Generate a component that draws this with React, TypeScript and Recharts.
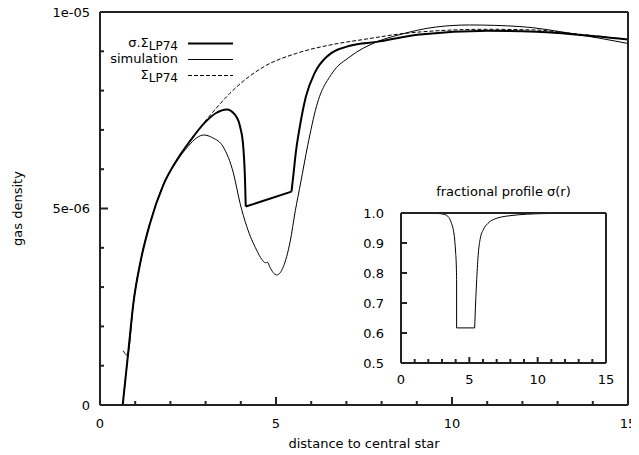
import React from "react"
import { LineChart, Line, XAxis, YAxis, Legend, Label } from "recharts"

const FONT = "'DejaVu Sans', sans-serif"
const INK = "#000"
const FRAME = "#222"
const FRAME_W = 2

// main panel axes
const xDomain = [0, 15]
const yDomain = [0, 1e-5]
const xTicks = [0, 1, 2, 3, 4, 5, 6, 7, 8, 9, 10, 11, 12, 13, 14, 15]
const xTickLabels = ["0", "", "", "", "", "5", "", "", "", "", "10", "", "", "", "", "15"]
const yTicks = [0, 1e-6, 2e-6, 3e-6, 4e-6, 5e-6, 6e-6, 7e-6, 8e-6, 9e-6, 1e-5]
const yTickLabels = ["0", "", "", "", "", "5e-06", "", "", "", "", "1e-05"]

// sigma . Sigma_LP74 (thick) - three pieces, the gap edges are sharp corners
const sigSigInnerR = [0.645, 0.8, 0.95, 1.14, 1.42, 1.8, 2.18, 2.56, 2.97, 3.3, 3.6, 3.84, 3.98, 4.07, 4.12, 4.14]
const sigSigInnerV = [0, 1.32e-6, 2.6e-6, 3.6e-6, 4.62e-6, 5.6e-6, 6.23e-6, 6.72e-6, 7.18e-6, 7.43e-6, 7.52e-6, 7.38e-6, 7.08e-6, 6.57e-6, 5.72e-6, 5.05e-6]
const sigSigFloorR = [4.14, 5.44]
const sigSigFloorV = [5.05e-6, 5.43e-6]
const sigSigOuterR = [5.44, 5.5, 5.56, 5.68, 5.85, 6.1, 6.44, 7.1, 7.86, 9.09, 11.0, 12.4, 13.35, 15]
const sigSigOuterV = [5.43e-6, 5.9e-6, 6.4e-6, 7.1e-6, 7.85e-6, 8.45e-6, 8.86e-6, 9.14e-6, 9.24e-6, 9.43e-6, 9.52e-6, 9.5e-6, 9.44e-6, 9.3e-6]

// simulation (thin)
const simR = [0.66, 0.71, 0.76, 0.8, 0.95, 1.14, 1.42, 1.8, 2.18, 2.5, 2.75, 2.94, 3.2, 3.5, 3.79, 3.98, 4.17, 4.45, 4.6, 4.7, 4.76, 4.82, 4.92, 5.02, 5.21, 5.4, 5.55, 5.7, 5.9, 6.15, 6.6, 7.1, 7.86, 8.5, 9.56, 10.5, 11.93, 13.35, 15]
const simV = [1.38e-6, 1.31e-6, 1.27e-6, 1.32e-6, 2.6e-6, 3.6e-6, 4.62e-6, 5.6e-6, 6.2e-6, 6.58e-6, 6.8e-6, 6.87e-6, 6.8e-6, 6.57e-6, 5.9e-6, 5.13e-6, 4.54e-6, 3.94e-6, 3.7e-6, 3.62e-6, 3.63e-6, 3.52e-6, 3.37e-6, 3.31e-6, 3.52e-6, 4.15e-6, 4.95e-6, 5.65e-6, 6.6e-6, 7.6e-6, 8.45e-6, 8.86e-6, 9.24e-6, 9.42e-6, 9.62e-6, 9.67e-6, 9.63e-6, 9.46e-6, 9.2e-6]

// Sigma_LP74 (dashed)
const lpR = [0.645, 0.8, 0.95, 1.14, 1.42, 1.8, 2.18, 2.56, 2.97, 3.3, 3.69, 4.64, 5.59, 6.53, 7.48, 8.81, 10.99, 12.4, 13.35, 15]
const lpV = [0, 1.32e-6, 2.6e-6, 3.6e-6, 4.62e-6, 5.6e-6, 6.23e-6, 6.72e-6, 7.2e-6, 7.55e-6, 7.93e-6, 8.6e-6, 8.95e-6, 9.16e-6, 9.3e-6, 9.47e-6, 9.56e-6, 9.54e-6, 9.46e-6, 9.3e-6]

// inset: fractional profile sigma(r)
const insetYDomain = [0.5, 1.0]
const fracInnerR = [0, 1, 2, 2.8, 3.2, 3.5, 3.7, 3.83, 3.93, 4.0, 4.05, 4.07]
const fracInnerV = [1.0, 1.0, 0.999, 0.998, 0.995, 0.985, 0.965, 0.944, 0.91, 0.867, 0.82, 0.778]
const fracFloorR = [4.07, 4.07, 5.39]
const fracFloorV = [0.778, 0.617, 0.617]
const fracOuterR = [5.39, 5.46, 5.54, 5.66, 5.8, 6.02, 6.35, 6.75, 7.97, 10.4, 15]
const fracOuterV = [0.617, 0.7, 0.778, 0.867, 0.915, 0.944, 0.965, 0.978, 0.991, 0.998, 1.0]
const insetYTicks = [0.5, 0.6, 0.7, 0.8, 0.9, 1.0]
const insetYTickLabels = ["0.5", "0.6", "0.7", "0.8", "0.9", "1.0"]

const rows = (r: number[], v: number[]) => r.map((x, i) => ({ r: x, v: v[i] }))

const textStyle = { fontFamily: FONT, fontSize: 13, fill: INK }
const frameLine = { stroke: FRAME, strokeWidth: FRAME_W }

type Side = "bottom" | "top" | "left" | "right"

// gnuplot-like ticks: pointing inward, longer on labelled ones
function tickMark(side: Side, labels: string[], showText: boolean, long: number, short: number, gap: number) {
  return (p: any) => {
    const lab = labels[p.index] ?? ""
    const len = lab ? long : short
    const x = Number(p.x)
    const y = Number(p.y)
    const dx = side === "left" ? len : side === "right" ? -len : 0
    const dy = side === "bottom" ? -len : side === "top" ? len : 0
    let txt = null
    if (showText && lab) {
      txt = side === "bottom"
        ? <text x={x} y={y + gap} textAnchor="middle" {...textStyle}>{lab}</text>
        : <text x={x - gap} y={y + 4.5} textAnchor="end" {...textStyle}>{lab}</text>
    }
    return (
      <g>
        <path d={`M${x},${y}L${x + dx},${y + dy}`} stroke={FRAME} strokeWidth={FRAME_W} />
        {txt}
      </g>
    )
  }
}

const subStyle: React.CSSProperties = { fontSize: 12, position: "relative", top: 3 }
const legendOrder = ["sigSig", "sim", "lp74"]
const legendLabels: Record<string, React.ReactNode> = {
  sigSig: <>σ.Σ<span style={subStyle}>LP74</span></>,
  sim: "simulation",
  lp74: <>Σ<span style={subStyle}>LP74</span></>,
}
const legendStroke: Record<string, { w: number; dash?: string }> = {
  sigSig: { w: 2 },
  sim: { w: 1 },
  lp74: { w: 1, dash: "4 2" },
}

const renderLegend = (props: any) => {
  const items = (props.payload ?? [])
    .filter((it: any) => legendOrder.includes(it.value))
    .sort((a: any, b: any) => legendOrder.indexOf(a.value) - legendOrder.indexOf(b.value))
  return (
    <div style={{ fontFamily: FONT, fontSize: 13, color: INK }}>
      {items.map((it: any) => (
        <div key={it.value} style={{ display: "flex", alignItems: "center", height: 16 }}>
          <span style={{ width: 80, textAlign: "right", lineHeight: "16px", whiteSpace: "nowrap" }}>
            {legendLabels[it.value]}
          </span>
          <svg width={56} height={16}>
            <path d="M10,8.5L55,8.5" stroke={INK}
              strokeWidth={legendStroke[it.value].w} strokeDasharray={legendStroke[it.value].dash} />
          </svg>
        </div>
      ))}
    </div>
  )
}

const yTitle = (lp: any) => {
  const vb = lp.viewBox
  const cx = 22
  const cy = vb.y + vb.height / 2
  return (
    <text x={cx} y={cy} transform={`rotate(-90 ${cx} ${cy})`} textAnchor="middle" {...textStyle}>
      gas density
    </text>
  )
}

const axisCommon = { tickSize: 0, tickMargin: 0, tickLine: false, interval: 0 as const, axisLine: frameLine }

export default function App() {
  return (
    <div style={{ position: "relative", left: -8, top: -8, width: 639, height: 455, background: "#fff", fontFamily: FONT }}>
      <LineChart width={639} height={455} margin={{ top: 11, right: 10, bottom: 0, left: 0 }}>
        <XAxis type="number" dataKey="r" domain={xDomain} ticks={xTicks} height={50} {...axisCommon}
          tick={tickMark("bottom", xTickLabels, true, 8, 4, 22.5)}>
          <Label value="distance to central star" position="insideBottom" offset={7} {...textStyle} />
        </XAxis>
        <XAxis xAxisId="top" orientation="top" type="number" dataKey="r" domain={xDomain} ticks={xTicks}
          height={1} {...axisCommon} tick={tickMark("top", xTickLabels, false, 8, 4, 0)} />
        <YAxis type="number" domain={yDomain} ticks={yTicks} width={100} {...axisCommon}
          tick={tickMark("left", yTickLabels, true, 8, 4, 10)}>
          <Label content={yTitle} />
        </YAxis>
        <YAxis yAxisId="right" orientation="right" type="number" domain={yDomain} ticks={yTicks}
          width={1} {...axisCommon} tick={tickMark("right", yTickLabels, false, 8, 4, 0)} />
        <Legend content={renderLegend} layout="vertical" align="center" verticalAlign="middle"
          wrapperStyle={{ left: 98, top: 35, width: 140 }} />
        <Line name="lp74" data={rows(lpR, lpV)} dataKey="v" type="monotone" stroke={INK}
          strokeWidth={1} strokeDasharray="4 2" dot={false} activeDot={false} isAnimationActive={false} />
        <Line name="sim" data={rows(simR, simV)} dataKey="v" type="monotone" stroke={INK}
          strokeWidth={1} dot={false} activeDot={false} isAnimationActive={false} />
        <Line name="sigSig" data={rows(sigSigInnerR, sigSigInnerV)} dataKey="v" type="monotone" stroke={INK}
          strokeWidth={2} dot={false} activeDot={false} isAnimationActive={false} />
        <Line name="sigSigFloor" legendType="none" data={rows(sigSigFloorR, sigSigFloorV)} dataKey="v" type="linear"
          stroke={INK} strokeWidth={2} dot={false} activeDot={false} isAnimationActive={false} />
        <Line name="sigSigOuter" legendType="none" data={rows(sigSigOuterR, sigSigOuterV)} dataKey="v" type="monotone"
          stroke={INK} strokeWidth={2} dot={false} activeDot={false} isAnimationActive={false} />
      </LineChart>

      <div style={{ position: "absolute", left: 355, top: 180 }}>
        <LineChart width={262} height={210} margin={{ top: 32, right: 10, bottom: 0, left: 0 }}>
          <XAxis type="number" dataKey="r" domain={xDomain} ticks={xTicks} height={27} {...axisCommon}
            tick={tickMark("bottom", xTickLabels, true, 6, 4, 20.5)} />
          <XAxis xAxisId="top" orientation="top" type="number" dataKey="r" domain={xDomain} ticks={xTicks}
            height={1} {...axisCommon} tick={tickMark("top", xTickLabels, false, 6, 4, 0)}>
            <Label value="fractional profile σ(r)" position="top" offset={16} {...textStyle} />
          </XAxis>
          <YAxis type="number" domain={insetYDomain} ticks={insetYTicks} width={46} {...axisCommon}
            tick={tickMark("left", insetYTickLabels, true, 6, 4, 17)} />
          <YAxis yAxisId="right" orientation="right" type="number" domain={insetYDomain} ticks={insetYTicks}
            width={1} {...axisCommon} tick={tickMark("right", insetYTickLabels, false, 6, 4, 0)} />
          <Line data={rows(fracInnerR, fracInnerV)} dataKey="v" type="monotone" stroke={INK} strokeWidth={1}
            dot={false} activeDot={false} isAnimationActive={false} />
          <Line data={rows(fracFloorR, fracFloorV)} dataKey="v" type="linear" stroke={INK} strokeWidth={1}
            dot={false} activeDot={false} isAnimationActive={false} />
          <Line data={rows(fracOuterR, fracOuterV)} dataKey="v" type="monotone" stroke={INK} strokeWidth={1}
            dot={false} activeDot={false} isAnimationActive={false} />
        </LineChart>
      </div>
    </div>
  )
}
